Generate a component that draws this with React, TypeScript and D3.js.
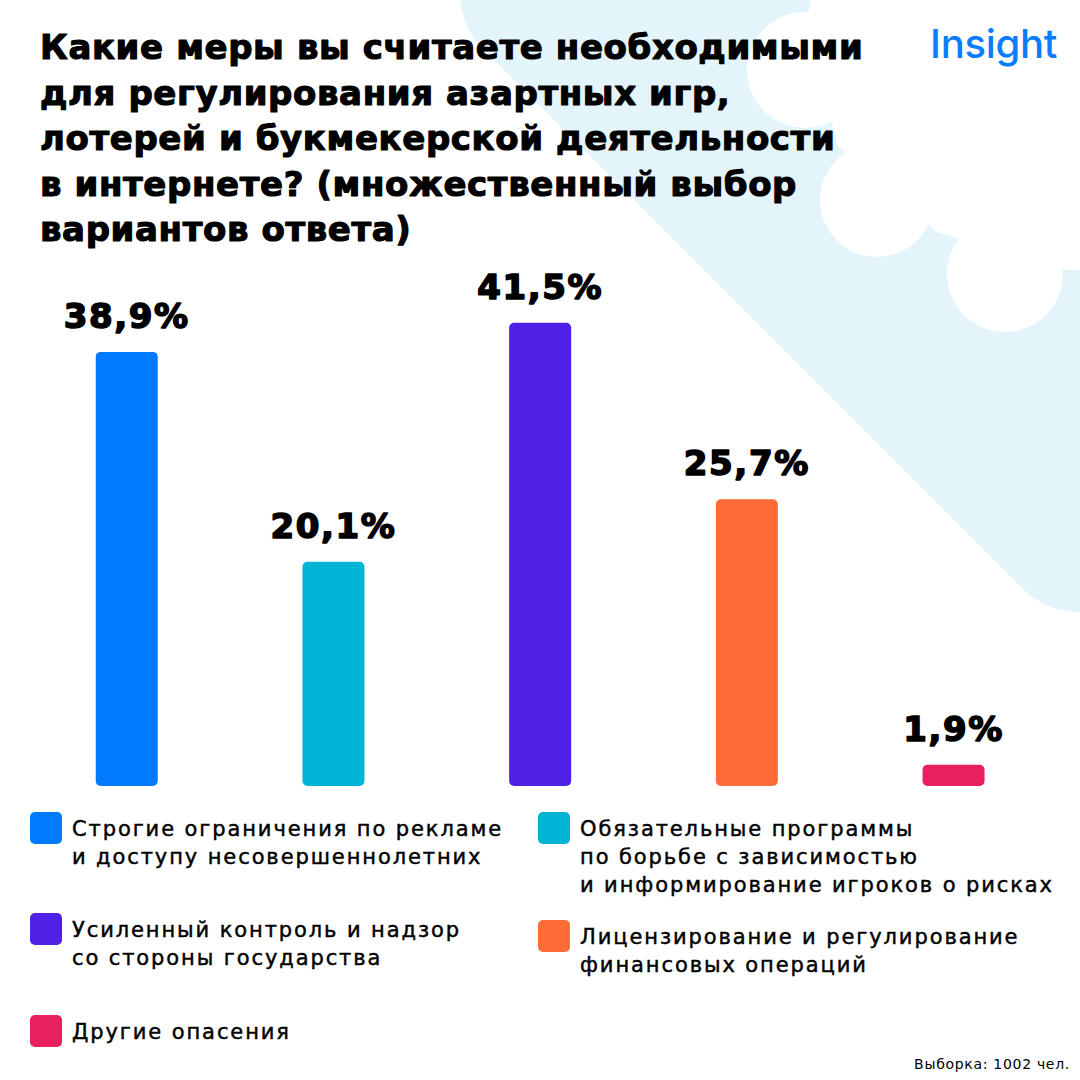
import React from "react";
import * as d3 from "d3";

const categories = [
  "Строгие ограничения по рекламе и доступу несовершеннолетних",
  "Обязательные программы по борьбе с зависимостью и информирование игроков о рисках",
  "Усиленный контроль и надзор со стороны государства",
  "Лицензирование и регулирование финансовых операций",
  "Другие опасения",
];
const values = [38.9, 20.1, 41.5, 25.7, 1.9];
const valueLabels = ["38,9%", "20,1%", "41,5%", "25,7%", "1,9%"];
const colors = ["#007BFF", "#00B4D6", "#5020E6", "#FF6B37", "#E8215E"];
const legendLines = [
  ["Строгие ограничения по рекламе", "и доступу несовершеннолетних"],
  ["Обязательные программы", "по борьбе с зависимостью", "и информирование игроков о рисках"],
  ["Усиленный контроль и надзор", "со стороны государства"],
  ["Лицензирование и регулирование", "финансовых операций"],
  ["Другие опасения"],
];
const titleLines = [
  "Какие меры вы считаете необходимыми",
  "для регулирования азартных игр,",
  "лотерей и букмекерской деятельности",
  "в интернете? (множественный выбор",
  "вариантов ответа)",
];
const brand = "Insight";
const footnote = "Выборка: 1002 чел.";

// layout
const W = 1080;
const H = 1080;
const baseY = 786;
const pxPerPct = 11.16;
const legendPos = [
  { x: 30, y: 812 },
  { x: 538, y: 812 },
  { x: 30, y: 913 },
  { x: 538, y: 920 },
  { x: 30, y: 1015 },
];

export default function App() {
  const x = d3
    .scaleBand<string>()
    .domain(categories)
    .range([23.4, 1056.9])
    .paddingInner(0.7)
    .paddingOuter(0.35);
  const y = d3
    .scaleLinear()
    .domain([0, 100])
    .range([baseY, baseY - 100 * pxPerPct]);

  const bgPath =
    "M460,0 L810,0 Q812,10 804,16 L838,146 L937,232 L1068,270 L1080,270 L1080,612 Q1046,612 1022,588 L478,44 Q462,22 460,0 Z";

  return (
    <svg
      width={W}
      height={H}
      viewBox={`0 0 ${W} ${H}`}
      style={{ position: "absolute", left: 0, top: 0, background: "#fff" }}
    >
      <rect x={0} y={0} width={W} height={H} fill="#ffffff" />
      <g>
        <path d={bgPath} fill="#E3F5FA" />
        <circle cx={805} cy={70} r={58} fill="#ffffff" />
        <circle cx={877} cy={200} r={57} fill="#ffffff" />
        <circle cx={1005} cy={274} r={58} fill="#ffffff" />
      </g>

      <g
        fontFamily="'DejaVu Sans', sans-serif"
        fontWeight={700}
        fontSize={34}
        fill="#000"
        stroke="#000"
        strokeWidth={1.1}
        strokeLinejoin="round"
        letterSpacing={0.6}
      >
        {titleLines.map((t, i) => (
          <text key={i} x={40} y={59 + i * 45.5}>
            {t}
          </text>
        ))}
      </g>

      <text
        x={1057}
        y={58}
        textAnchor="end"
        fontFamily="Inter, 'Noto Sans', sans-serif"
        fontWeight={500}
        fontSize={40}
        fill="#0A7DFF"
        letterSpacing={-0.3}
      >
        {brand}
      </text>

      <g>
        {categories.map((c, i) => (
          <rect
            key={c}
            x={x(c)}
            y={y(values[i])}
            width={x.bandwidth()}
            height={baseY - y(values[i])}
            rx={5}
            fill={colors[i]}
          />
        ))}
      </g>
      <g
        fontFamily="'DejaVu Sans', sans-serif"
        fontWeight={700}
        fontSize={34}
        fill="#000"
        stroke="#000"
        strokeWidth={1.6}
        strokeLinejoin="round"
        textAnchor="middle"
        letterSpacing={1.6}
      >
        {categories.map((c, i) => (
          <text key={c} x={(x(c) as number) + x.bandwidth() / 2} y={y(values[i]) - 24}>
            {valueLabels[i]}
          </text>
        ))}
      </g>

      <g>
        {categories.map((c, i) => (
          <g key={c} transform={`translate(${legendPos[i].x},${legendPos[i].y})`}>
            <rect x={0} y={0} width={32} height={32} rx={5} fill={colors[i]} />
            <text
              x={42}
              y={24}
              fontFamily="'DejaVu Sans', sans-serif"
              fontSize={21}
              fill="#000"
              stroke="#000"
              strokeWidth={0.45}
              letterSpacing={1.9}
            >
              {legendLines[i].map((l, j) => (
                <tspan key={j} x={42} y={24 + j * 28}>
                  {l}
                </tspan>
              ))}
            </text>
          </g>
        ))}
      </g>

      <text
        x={1070}
        y={1069}
        textAnchor="end"
        fontFamily="'DejaVu Sans', sans-serif"
        fontSize={14}
        fill="#000"
        letterSpacing={0.7}
      >
        {footnote}
      </text>
    </svg>
  );
}
